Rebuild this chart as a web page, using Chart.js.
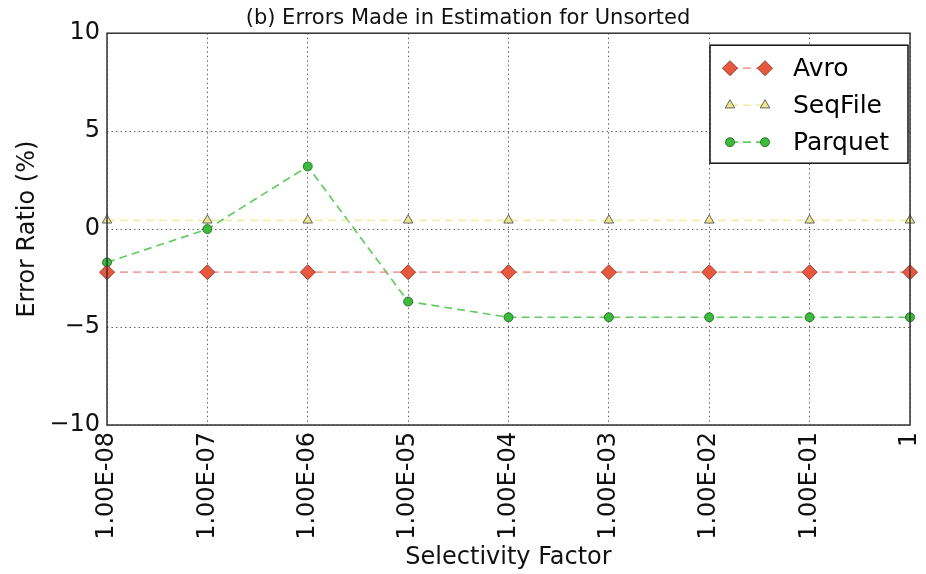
<!DOCTYPE html>
<html>
<head>
<meta charset="utf-8">
<script src="https://cdn.jsdelivr.net/npm/chart.js@4.4.1/dist/chart.umd.min.js"></script>
<style>
  html, body { margin: 0; padding: 0; background: #fff; }
  #wrap { width: 926px; height: 574px; }
</style>
</head>
<body>
<div id="wrap"><canvas id="errChart" width="926" height="574"></canvas></div>
<script>
// --- data ---
const selectivity = ['1.00E-08', '1.00E-07', '1.00E-06', '1.00E-05', '1.00E-04',
                     '1.00E-03', '1.00E-02', '1.00E-01', '1'];
const avroErr    = [-2.2, -2.2, -2.2, -2.2, -2.2, -2.2, -2.2, -2.2, -2.2];
const seqFileErr = [0.45, 0.45, 0.45, 0.45, 0.45, 0.45, 0.45, 0.45, 0.45];
const parquetErr = [-1.7, 0.0, 3.2, -3.7, -4.5, -4.5, -4.5, -4.5, -4.5];
const yTicks = [-10, -5, 0, 5, 10];

const FONT = 'DejaVu Sans';

// legend drawn inside the plot, top-right (matplotlib style)
const innerLegend = {
  id: 'innerLegend',
  afterDraw(chart) {
    const { ctx, chartArea } = chart;
    const w = 198, h = 118;
    const x0 = chartArea.right - w - 2, y0 = chartArea.top + 12;
    ctx.save();
    ctx.fillStyle = '#fff';
    ctx.fillRect(x0, y0, w, h);
    ctx.lineWidth = 1.5;
    ctx.strokeStyle = '#111';
    ctx.strokeRect(x0, y0, w, h);
    chart.data.datasets.forEach((ds, i) => {
      const cy = y0 + 23 + i * 37;
      const mx1 = x0 + 20, mx2 = x0 + 55;
      ctx.save();
      ctx.strokeStyle = ds.borderColor;
      ctx.lineWidth = ds.borderWidth;
      ctx.setLineDash(ds.borderDash);
      ctx.beginPath();
      ctx.moveTo(mx1, cy); ctx.lineTo(mx2, cy);
      ctx.stroke();
      ctx.restore();
      const opts = {
        pointStyle: ds.pointStyle, radius: ds.pointRadius, rotation: 0,
        borderWidth: ds.pointBorderWidth
      };
      ctx.fillStyle = ds.pointBackgroundColor;
      ctx.strokeStyle = ds.pointBorderColor;
      ctx.lineWidth = ds.pointBorderWidth;
      Chart.helpers.drawPoint(ctx, opts, mx1, cy);
      ctx.fillStyle = ds.pointBackgroundColor;
      ctx.strokeStyle = ds.pointBorderColor;
      Chart.helpers.drawPoint(ctx, opts, mx2, cy);
      ctx.fillStyle = '#000';
      ctx.font = '25px "' + FONT + '"';
      ctx.textBaseline = 'middle';
      ctx.fillText(ds.label, x0 + 83, cy + 1);
    });
    ctx.restore();
  }
};

// full box around the plot, and nudge the title to where the original sits
const frameBox = {
  id: 'frameBox',
  afterLayout(chart) {
    const t = chart.titleBlock;
    if (t) { t.left += 13; t.right += 13; }
  },
  afterDatasetsDraw(chart) {
    const { ctx, chartArea } = chart;
    ctx.save();
    ctx.lineWidth = 1.5;
    ctx.strokeStyle = '#333';
    ctx.strokeRect(chartArea.left, chartArea.top,
                   chartArea.right - chartArea.left, chartArea.bottom - chartArea.top);
    ctx.restore();
  }
};

const ctx = document.getElementById('errChart').getContext('2d');
new Chart(ctx, {
  type: 'line',
  data: {
    labels: selectivity,
    datasets: [
      {
        label: 'Avro',
        data: avroErr,
        borderColor: 'rgba(240, 130, 120, 0.75)',
        borderWidth: 1.7,
        borderDash: [8, 5],
        pointStyle: 'rectRot',
        pointRadius: 7.5,
        pointBackgroundColor: '#e8583f',
        pointBorderColor: '#7a2a1a',
        pointBorderWidth: 0.8,
        tension: 0
      },
      {
        label: 'SeqFile',
        data: seqFileErr,
        borderColor: 'rgba(238, 232, 150, 0.8)',
        borderWidth: 1.7,
        borderDash: [8, 5],
        pointStyle: 'triangle',
        pointRadius: 5.5,
        pointBackgroundColor: '#ece58f',
        pointBorderColor: '#444',
        pointBorderWidth: 0.8,
        tension: 0
      },
      {
        label: 'Parquet',
        data: parquetErr,
        borderColor: 'rgba(70, 195, 70, 0.85)',
        borderWidth: 1.7,
        borderDash: [8, 5],
        pointStyle: 'circle',
        pointRadius: 4.5,
        pointBackgroundColor: '#3cbb3c',
        pointBorderColor: '#1d5a1d',
        pointBorderWidth: 0.8,
        tension: 0
      }
    ]
  },
  options: {
    responsive: false,
    animation: false,
    layout: { padding: { left: 0, right: 16, top: 0, bottom: 0 } },
    plugins: {
      legend: { display: false },
      tooltip: { enabled: false },
      title: {
        display: true,
        text: '(b) Errors Made in Estimation for Unsorted',
        color: '#111',
        font: { family: FONT, size: 21, weight: 'normal' },
        padding: { top: 6, bottom: 2 }
      }
    },
    scales: {
      x: {
        type: 'category',
        offset: false,
        grid: { color: 'rgba(60, 60, 60, 0.8)', drawTicks: false, lineWidth: 1 },
        border: { display: false, dash: [1.5, 3] },
        ticks: {
          color: '#111', font: { family: FONT, size: 24 },
          minRotation: 90, maxRotation: 90, padding: 7, autoSkip: false
        },
        title: {
          display: true, text: 'Selectivity Factor', color: '#111',
          font: { family: FONT, size: 24 }, padding: { top: 0, bottom: 2 }
        },
        afterFit(scale) {
          scale.height = 149;
          scale.paddingLeft = 0;
          scale.paddingRight = 0;
        }
      },
      y: {
        min: yTicks[0],
        max: yTicks[yTicks.length - 1],
        grid: { color: 'rgba(60, 60, 60, 0.8)', drawTicks: false, lineWidth: 1 },
        border: { display: false, dash: [1.5, 3] },
        ticks: {
          stepSize: 5, color: '#111', font: { family: FONT, size: 24 }, padding: 7,
          callback: v => String(v).replace('-', '\u2212')
        },
        title: {
          display: true, text: 'Error Ratio (%)', color: '#111',
          font: { family: FONT, size: 24 }, padding: { top: 13, bottom: 0 }
        },
        afterFit(scale) { scale.width = 107; }
      }
    }
  },
  plugins: [frameBox, innerLegend]
});
</script>
</body>
</html>
